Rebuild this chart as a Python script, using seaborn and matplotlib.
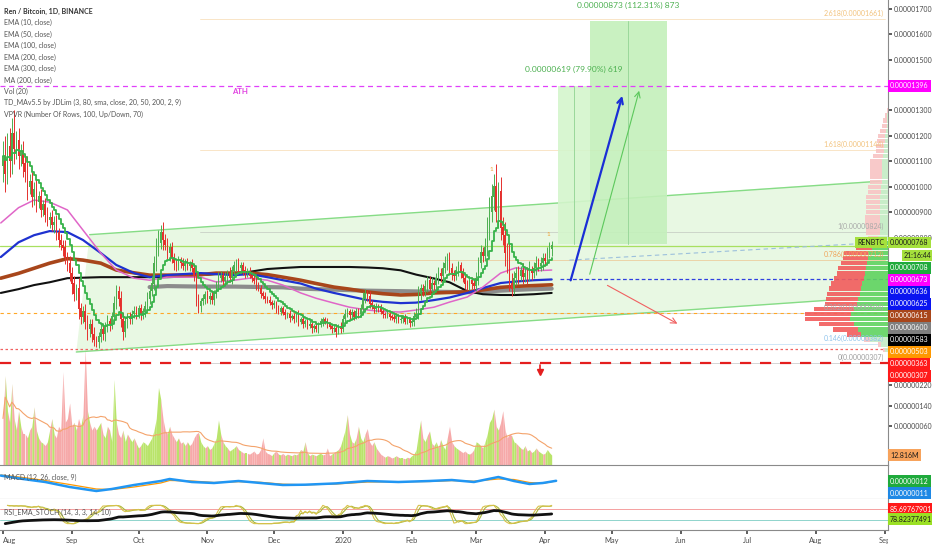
import numpy as np
import pandas as pd
import seaborn as sns
import matplotlib
matplotlib.use("Agg")
import matplotlib.pyplot as plt
from matplotlib.patches import Polygon, Rectangle, FancyArrowPatch
from matplotlib.transforms import Bbox, TransformedBbox

# ---- daily candles, RENBTC in satoshi, day 0 = 2019-08-01 ----
first_open = 1080
closes = [
    1120, 1050, 1160, 1100, 1210, 1150, 1180, 1120, 1140, 1090,
    1060, 1000, 1020, 960, 990, 940, 960, 910, 930, 890,
    870, 880, 850, 860, 820, 790, 770, 760, 720, 700,
    660, 620, 580, 600, 520, 490, 510, 470, 440, 460,
    420, 400, 390, 410, 440, 420, 450, 470, 460, 490,
    540, 590, 560, 480, 430, 470, 490, 480, 500, 510,
    500, 520, 495, 510, 530, 560, 590, 620, 700, 760,
    780, 820, 790, 770, 740, 760, 720, 700, 690, 710,
    700, 690, 700, 690, 695, 680, 650, 560, 530, 550,
    560, 575, 560, 570, 555, 580, 610, 640, 650, 630,
    645, 660, 640, 670, 690, 700, 680, 690, 670, 660,
    665, 650, 640, 630, 610, 600, 580, 570, 560, 555,
    545, 535, 540, 520, 510, 520, 505, 495, 500, 485,
    490, 480, 500, 470, 480, 460, 470, 455, 460, 445,
    450, 440, 460, 470, 480, 470, 460, 450, 440, 445,
    430, 450, 440, 480, 500, 510, 495, 505, 490, 510,
    500, 520, 560, 580, 570, 540, 530, 520, 530, 525,
    510, 500, 495, 500, 490, 485, 480, 490, 475, 480,
    485, 470, 480, 465, 470, 490, 500, 580, 600, 590,
    610, 630, 600, 620, 615, 640, 660, 650, 680, 700,
    720, 680, 660, 650, 670, 690, 660, 640, 620, 610,
    630, 620, 610, 640, 700, 740, 730, 760, 830, 900,
    960, 1000, 900, 980, 840, 810, 740, 720, 620, 600,
    640, 660, 650, 670, 645, 660, 650, 670, 660, 680,
    700, 690, 700, 720, 710, 740, 755, 768,
]
wick_up = [
    60, 80, 50, 70, 60, 90, 40, 50, 30, 40,
    40, 60, 30, 40, 30, 40, 25, 30, 20, 25,
    30, 20, 30, 25, 30, 20, 25, 20, 30, 25,
    30, 25, 30, 20, 40, 25, 20, 30, 25, 20,
    20, 30, 15, 20, 25, 20, 20, 25, 15, 20,
    30, 25, 20, 30, 25, 20, 15, 20, 15, 20,
    20, 15, 20, 15, 20, 25, 20, 30, 30, 40,
    50, 30, 40, 25, 30, 20, 25, 20, 15, 20,
    15, 20, 15, 20, 15, 20, 15, 25, 20, 15,
    20, 15, 20, 15, 20, 15, 20, 25, 20, 15,
    20, 15, 25, 20, 20, 15, 20, 15, 15, 20,
    15, 20, 15, 15, 20, 15, 15, 10, 15, 10,
    15, 10, 15, 10, 15, 10, 10, 15, 10, 15,
    10, 15, 10, 15, 10, 15, 10, 10, 15, 10,
    10, 15, 10, 15, 10, 10, 15, 10, 10, 15,
    15, 10, 20, 15, 20, 15, 10, 15, 10, 15,
    15, 20, 25, 20, 15, 20, 15, 10, 15, 10,
    15, 10, 10, 15, 10, 10, 15, 10, 10, 15,
    10, 15, 10, 10, 15, 20, 25, 30, 20, 20,
    25, 20, 20, 25, 15, 20, 25, 20, 25, 30,
    20, 25, 20, 15, 20, 20, 15, 20, 15, 15,
    20, 15, 20, 25, 25, 30, 25, 40, 50, 60,
    50, 50, 90, 40, 60, 40, 50, 40, 60, 40,
    30, 25, 30, 20, 30, 25, 25, 40, 20, 25,
    30, 20, 25, 20, 20, 25, 30, 20,
]
wick_dn = [
    60, 70, 40, 60, 50, 60, 40, 50, 40, 50,
    40, 50, 30, 40, 30, 40, 25, 30, 25, 30,
    25, 30, 25, 30, 30, 25, 20, 30, 25, 30,
    30, 40, 30, 25, 40, 30, 25, 30, 40, 30,
    30, 25, 20, 25, 20, 20, 25, 20, 25, 20,
    25, 20, 30, 30, 30, 20, 25, 20, 20, 15,
    20, 15, 20, 15, 20, 15, 20, 20, 25, 30,
    30, 25, 40, 20, 25, 30, 20, 25, 20, 15,
    20, 15, 20, 15, 20, 15, 20, 30, 25, 20,
    15, 20, 15, 20, 15, 20, 15, 20, 15, 20,
    15, 20, 15, 20, 15, 20, 15, 20, 15, 20,
    15, 10, 15, 10, 15, 10, 15, 10, 15, 10,
    10, 15, 10, 15, 10, 15, 10, 15, 10, 15,
    10, 15, 10, 15, 10, 15, 10, 15, 10, 20,
    15, 10, 15, 10, 15, 10, 15, 10, 15, 10,
    20, 10, 15, 10, 15, 10, 15, 10, 15, 10,
    15, 10, 20, 15, 20, 15, 10, 15, 10, 15,
    10, 15, 10, 10, 15, 10, 10, 15, 10, 10,
    15, 10, 10, 15, 10, 15, 10, 20, 25, 20,
    20, 25, 20, 15, 20, 15, 20, 25, 20, 20,
    25, 20, 25, 20, 15, 20, 20, 15, 20, 15,
    15, 20, 15, 20, 25, 20, 25, 20, 30, 40,
    40, 50, 40, 60, 50, 40, 50, 60, 30, 30,
    20, 25, 30, 20, 25, 20, 30, 20, 25, 20,
    25, 20, 20, 25, 20, 15, 20, 25,
]
# daily volume, millions of REN
volume = [
    60, 115, 70, 55, 105, 60, 45, 70, 50, 40,
    40, 35, 45, 50, 75, 45, 35, 30, 28, 25,
    30, 45, 60, 40, 35, 50, 45, 120, 55, 60,
    80, 50, 55, 45, 60, 50, 65, 150, 70, 55,
    45, 50, 45, 50, 55, 40, 35, 50, 45, 30,
    110, 55, 40, 35, 45, 30, 40, 35, 30, 35,
    28, 22, 25, 30, 28, 25, 30, 35, 45, 60,
    100, 85, 60, 45, 40, 50, 40, 35, 30, 35,
    28, 30, 25, 30, 25, 28, 35, 40, 42, 30,
    25, 22, 25, 20, 22, 28, 35, 58, 40, 30,
    25, 22, 18, 20, 22, 25, 20, 18, 16, 15,
    15, 14, 16, 18, 14, 15, 20, 35, 18, 15,
    14, 12, 16, 18, 14, 13, 15, 12, 14, 13,
    12, 14, 13, 15, 20, 18, 30, 16, 12, 14,
    13, 12, 14, 15, 13, 14, 22, 12, 14, 16,
    18, 20, 25, 35, 45, 65, 40, 30, 28, 35,
    50, 35, 30, 40, 47, 30, 25, 30, 22, 18,
    14, 12, 10, 12, 11, 9, 10, 12, 10, 9,
    9, 8, 10, 9, 12, 14, 20, 40, 58, 35,
    30, 38, 44, 28, 25, 30, 22, 33, 25, 20,
    35, 50, 30, 25, 22, 20, 18, 16, 18, 15,
    14, 16, 20, 30, 28, 25, 22, 30, 40, 55,
    60, 72, 50, 45, 55, 70, 45, 35, 40, 38,
    30, 28, 25, 22, 20, 25, 18, 20, 16, 18,
    22, 18, 16, 14, 15, 20, 16, 12.816,
]

# ---- moving averages (day, satoshi) ----
ma_days = [-1, 7, 14, 21, 29, 36, 44, 51, 59, 66, 74, 81, 89, 96, 104, 111, 119,
           126, 134, 141, 149, 156, 164, 171, 179, 186, 194, 201, 209, 216, 224,
           231, 239, 247]
ema50 = [858, 918, 948, 940, 909, 830, 740, 673, 641, 633, 645, 645, 645, 626, 633,
         641, 633, 614, 583, 562, 543, 527, 516, 510, 508, 516, 527, 547, 567, 606,
         661, 682, 670, 673]
ema100 = [724, 782, 810, 826, 822, 791, 740, 693, 661, 645, 653, 657, 661, 657, 653,
          657, 645, 633, 620, 600, 583, 570, 555, 548, 543, 545, 555, 565, 583, 602,
          622, 628, 633, 636]
ema200 = [641, 660, 680, 700, 718, 712, 700, 673, 662, 653, 653, 653, 655, 661, 661,
          661, 655, 645, 633, 620, 606, 598, 587, 580, 575, 577, 583, 585, 587, 595,
          605, 609, 612, 615]
ema300 = [583, 598, 614, 625, 641, 643, 645, 645, 645, 645, 645, 647, 653, 657, 661,
          666, 677, 681, 685, 685, 685, 685, 683, 680, 672, 655, 640, 625, 590, 578,
          575, 575, 578, 583]
sma200 = [np.nan] * 9 + [606, 610, 609, 608, 608, 608, 607, 606, 605, 600, 598,
                         596, 594, 592, 591, 590, 589, 588, 587, 586, 588, 592,
                         595, 598, 600]

macd_days = [-1, 9, 19, 30, 42, 49, 59, 71, 75, 85, 95, 106, 116, 126, 136, 150,
             164, 178, 192, 202, 212, 223, 230, 237, 243, 249]
macd_line = [64, 30, 0, -50, -90, -70, -30, 10, 30, 0, -10, 10, -10, -30, -27, -14,
             10, 0, 10, 20, 0, 50, 10, -20, -10, 12]
macd_signal = [70, 45, 15, -25, -70, -75, -50, -10, 15, 10, -5, 3, -3, -22, -28, -20,
               0, 3, 5, 14, 8, 30, 25, -5, -14, 11]

# ---- VPVR rows (row centre price, up / down volume) ----
vp_prices = list(range(360, 1301, 20))
vp_up = [3, 7, 18, 27, 30, 34, 38, 37, 34, 31, 30, 28, 27, 26, 24, 23, 22, 21, 20, 20,
         16, 13, 10, 8, 8, 8, 8, 8, 8, 8, 8, 7, 7, 6, 6, 6, 6, 6, 5, 4,
         4, 3, 3, 2, 1, 1, 1, 0.5]
vp_down = [2, 3, 6, 14, 25, 35, 45, 46, 40, 32, 32, 33, 32, 31, 30, 28, 28, 26, 25, 24,
           16, 12, 10, 14, 14, 15, 15, 14, 14, 14, 14, 13, 13, 12, 12, 12, 12, 12, 10, 8,
           8, 8, 7, 6, 5, 4, 2, 1]
value_area = (410, 790)

# ---- drawings ----
ath = 1396
key_levels = {"ath": 1396, "resist": 503, "low2": 363, "low": 307}
fib_labels = ["0", "0.146", "0.382", "0.786", "1", "1.618", "2.618"]
fib_prices = [307, 382, 504, 713, 824, 1144, 1661]
fib_colors = ["#9e9e9e", "#8fc4ec", "#a8a8a8", "#f0a45a", "#a8a8a8", "#f2c27c", "#f2c27c"]
entry = 777
target_gain = [619, 873]
target_pct = ["79.90%", "112.31%"]

legend_lines = ["EMA (10, close)", "EMA (50, close)", "EMA (100, close)",
                "EMA (200, close)", "EMA (300, close)", "MA (200, close)", "Vol (20)",
                "TD_MAv5.5 by JDLim (3, 80, sma, close, 20, 50, 200, 2, 9)",
                "VPVR (Number Of Rows, 100, Up/Down, 70)"]
price_ticks = [1700, 1600, 1500, 1300, 1200, 1100, 1000, 900, 800, 220, 140, 60]

W, H = 932, 550
PX_DAY = 2.2216          # horizontal pixels per day
X_LEFT, X_RIGHT = -1.35, 398.4
FS = 5.0                 # small TradingView-like text

sns.set_theme(style="white")
plt.rcParams['font.family'] = ['Lato', 'DejaVu Sans']

n = len(closes)
days = np.arange(n)
c = np.array(closes, dtype=float)
o = np.array([first_open] + closes[:-1], dtype=float)
hi = np.maximum(o, c) + np.array(wick_up)
lo = np.minimum(o, c) - np.array(wick_dn)
up = c >= o
vol = np.array(volume, dtype=float)

fig = plt.figure(figsize=(W / 100, H / 100), dpi=100)
ax = fig.add_axes([0, 1 - 465 / H, 888 / W, 465 / H])
axv = ax.twinx()
axm = fig.add_axes([0, 1 - 499 / H, 888 / W, 34 / H])
axr = fig.add_axes([0, 1 - 530 / H, 888 / W, 31 / H])

ax.set_zorder(axv.get_zorder() + 1)
ax.patch.set_visible(False)

# volume overlay
vcol_up, vcol_dn = "#b9e46a", "#f6a9a9"
for i in range(1, n):
    axv.fill_between([i - 1, i], [vol[i - 1], vol[i]], 0,
                     color=vcol_up if up[i] else vcol_dn, lw=0)
vol_ma = pd.Series(vol).rolling(20, min_periods=1).mean()
sns.lineplot(x=days, y=vol_ma, ax=axv, color="#f4a36b", linewidth=0.8)
axv.set_ylim(0, 600)
axv.set_yticks([])
axv.set_ylabel("")

# channel
chan = Polygon([(33, 351), (39, 812), (X_RIGHT, 1027), (X_RIGHT, 568)],
               closed=True, fc="#dcf5d4", ec="none", alpha=0.65, zorder=0)
ax.add_patch(chan)
ax.plot([39, 394.8], [812, 1022], color="#86dc86", lw=1.0, zorder=1)
ax.plot([33, 381], [351, 560], color="#86dc86", lw=1.0, zorder=1)

# fib levels
fib_x0 = 88.7
for lab, p, col in zip(fib_labels, fib_prices, fib_colors):
    ax.plot([fib_x0, 397], [p, p], color=col, lw=0.6, alpha=0.5, zorder=1)
    ax.text(396.5, p + 8, f"{lab}({p / 1e8:.8f})", color=col, fontsize=FS,
            ha="right", va="bottom", zorder=6)

# horizontal levels
ax.axhline(key_levels["ath"], color="#e040fb", lw=0.9, ls=(0, (4, 3)), zorder=2)
ax.axhline(key_levels["resist"], color="#ffa726", lw=0.8, ls=(0, (3, 3)), zorder=2)
ax.axhline(key_levels["low2"], color="#f06060", lw=0.9, ls=(0, (2, 2)), zorder=2)
ax.axhline(key_levels["low"], color="#e41e1e", lw=1.6, ls=(0, (5, 4)), zorder=2)
ax.axhline(closes[-1], color="#a8e060", lw=0.9, zorder=2)
ax.plot([250.7, X_RIGHT], [ema100[-1], ema100[-1]], color="#3040e0", lw=0.9,
        ls=(0, (3, 2)), zorder=2)
ax.plot([255, X_RIGHT], [712, 783], color="#9cc0dc", lw=0.8, ls=(0, (4, 3)), zorder=2)
ax.text(106.7, ath - 8, "ATH", color="#e040e0", fontsize=5.6, fontweight="bold",
        ha="center", va="top")

# long position boxes
box_x = [(249.8, 264.2), (264.2, 298.9)]
box_fc = ["#d4f5cc", "#c4f0bb"]
for (x0, x1), g, pct, fc in zip(box_x, target_gain, target_pct, box_fc):
    ax.add_patch(Rectangle((x0, entry), x1 - x0, g, fc=fc, ec="none", alpha=0.9, zorder=1))
    xm = (x0 + x1) / 2
    ax.plot([xm, xm], [entry, entry + g], color="#9ad89a", lw=0.7, zorder=2)
    ax.text(xm, entry + g + 50, f"{g / 1e8:.8f} ({pct}) {g}", color="#4cb050",
            fontsize=6.0, ha="center", va="bottom")

# projection arrows
for (p0, p1, col, lw) in [((255.2, 622), (279.1, 1368), "#1a2fd6", 1.6),
                          ((263.8, 646), (286.7, 1388), "#5cc85c", 0.8),
                          ((271.0, 618), (304.7, 457), "#f06060", 0.8)]:
    ax.add_patch(FancyArrowPatch(p0, p1, arrowstyle="->", mutation_scale=10,
                                 color=col, lw=lw, zorder=5))

# moving averages
ma_specs = [(sma200, "#8c8c8c", 3.0), (ema300, "#111111", 1.5),
            (ema200, "#a8461b", 2.6), (ema100, "#1f32d0", 1.6),
            (ema50, "#e066c8", 1.1)]
for vals, col, lw in ma_specs:
    sns.lineplot(x=ma_days, y=vals, ax=ax, color=col, linewidth=lw, zorder=3)

# candles
body_col = np.where(up, "#4caf50", "#e5302d")
ax.vlines(days, lo, hi, colors=body_col, lw=0.7, zorder=4)
ax.bar(days, np.abs(c - o) + 2, bottom=np.minimum(o, c), width=0.65,
       color=body_col, lw=0, zorder=4)

ema10 = pd.Series(c).ewm(span=10, adjust=False).mean()
sns.lineplot(x=days, y=ema10, ax=ax, color="#37b34a", linewidth=1.3,
             drawstyle="steps-post", zorder=5)

# small TD markers
for d, p in [(220, 1058), (245.3, 803)]:
    ax.text(d, p, "1", color="#f0a030", fontsize=4.6, ha="center", va="bottom")
ax.plot([241.7], [272], marker="v", color="#e41e1e", ms=4, zorder=5)
ax.plot([241.7, 241.7], [272, 300], color="#e41e1e", lw=1.2, zorder=5)

# VPVR
for p, u, d in zip(vp_prices, vp_up, vp_down):
    inside = value_area[0] <= p <= value_area[1]
    cu = "#5fd35f" if inside else "#c5ecc5"
    cd = "#f25c5c" if inside else "#f8c4c4"
    wu, wd = u / PX_DAY, d / PX_DAY
    ax.barh(p, wu, left=X_RIGHT - wu, height=17, color=cu, lw=0, zorder=3, alpha=0.9)
    ax.barh(p, wd, left=X_RIGHT - wu - wd, height=17, color=cd, lw=0, zorder=3, alpha=0.9)

ax.set_xlim(X_LEFT, X_RIGHT)
ax.set_ylim(-93, 1734)
axv.set_xlim(X_LEFT, X_RIGHT)
ax.set_xlabel("")
ax.set_ylabel("")
ax.yaxis.tick_right()
ax.set_yticks(price_ticks)
ax.set_yticklabels([f"{v / 1e8:.8f}" for v in price_ticks])
ax.set_xticks([])

# MACD pane
sns.lineplot(x=macd_days, y=macd_signal, ax=axm, color="#ff9800", linewidth=0.9)
sns.lineplot(x=macd_days, y=macd_line, ax=axm, color="#2196f3", linewidth=1.8)
axm.set_ylim(-170, 170)
axm.set_xlim(X_LEFT, X_RIGHT)
axm.set_yticks([])
axm.set_xticks([])

# RSI / stoch pane
delta = pd.Series(c).diff()
gain = delta.clip(lower=0).ewm(alpha=1 / 14, adjust=False).mean()
loss = (-delta.clip(upper=0)).ewm(alpha=1 / 14, adjust=False).mean()
rsi = 100 - 100 / (1 + gain / loss)
rsi_lo = rsi.rolling(14, min_periods=1).min()
rsi_hi = rsi.rolling(14, min_periods=1).max()
stoch = 100 * (rsi - rsi_lo) / (rsi_hi - rsi_lo)
k = stoch.rolling(3, min_periods=1).mean()
dline = k.rolling(3, min_periods=1).mean()
rsi_ema = rsi.ewm(span=10, adjust=False).mean()
axr.axhline(80, color="#f5a0a0", lw=0.7)
axr.axhline(20, color="#8fd4cc", lw=0.7)
sns.lineplot(x=days, y=dline, ax=axr, color="#a9b83a", linewidth=0.8)
sns.lineplot(x=days, y=k, ax=axr, color="#d8c24a", linewidth=0.8)
sns.lineplot(x=days, y=rsi_ema, ax=axr, color="#111111", linewidth=2.0)
axr.set_ylim(-35, 135)
axr.set_xlim(X_LEFT, X_RIGHT)
axr.set_yticks([])

start = pd.Timestamp("2019-08-01")
months = pd.date_range("2019-08-01", "2020-09-01", freq="MS")
tick_days = [(m - start).days for m in months]
tick_labs = ["2020" if m.month == 1 else m.strftime("%b") for m in months]
axr.set_xticks(tick_days)
axr.set_xticklabels(tick_labs)
clip = TransformedBbox(Bbox([[0, -5], [1, 1]]), axr.transAxes)
xlabs = axr.get_xticklabels()
xlabs[0].set_horizontalalignment("left")
xlabs[0].set_x(0)
for lab in xlabs[1:]:
    lab.set_clip_on(True)
    lab.set_clip_box(clip)

for a in (ax, axm, axr):
    for s in ("top", "left"):
        a.spines[s].set_visible(False)
    a.spines["right"].set_color("#8a8a8a")
    a.spines["bottom"].set_color("#8a8a8a")
    a.spines["right"].set_linewidth(0.8)
    a.spines["bottom"].set_linewidth(0.8)
    a.set_xlabel("")
    a.set_ylabel("")
for s in axv.spines.values():
    s.set_visible(False)
ax.tick_params(axis="y", labelsize=FS, colors="#4a4a4a", length=3, pad=1.5,
               direction="out", right=True)
axr.tick_params(axis="x", labelsize=5.4, colors="#4a4a4a", length=3, pad=2,
                direction="out", bottom=True)

# legend text, top-left
fig.text(4 / W, 1 - 11 / H, "Ren / Bitcoin, 1D, BINANCE", fontsize=FS, color="#333333",
         fontweight="bold", va="center")
for i, t in enumerate(legend_lines):
    fig.text(4 / W, 1 - (22.7 + 11.45 * i) / H, t, fontsize=FS, color="#555555", va="center")
fig.text(4 / W, 1 - 477 / H, "MACD (12, 26, close, 9)", fontsize=FS, color="#555555",
         va="center")
fig.text(4 / W, 1 - 512 / H, "RSI_EMA_STOCH (14, 3, 3, 14, 10)", fontsize=FS,
         color="#555555", va="center")

# price-scale value tags
tags = [(86, "0.00001396", "#ff00ff", "white"),
        (242.5, "0.00000768", "#a5e03c", "#1a1a1a"),
        (268, "0.00000708", "#1faa3c", "white"),
        (280, "0.00000673", "#ff00ff", "white"),
        (292, "0.00000636", "#0a14f0", "white"),
        (304, "0.00000625", "#0a14f0", "white"),
        (316, "0.00000615", "#a8461b", "white"),
        (328, "0.00000600", "#7f7f7f", "white"),
        (340, "0.00000583", "#000000", "white"),
        (352, "0.00000503", "#ff9800", "white"),
        (364, "0.00000363", "#ff1a1a", "white"),
        (376, "0.00000307", "#ff1a1a", "white"),
        (481, "0.00000012", "#1faa3c", "white"),
        (493, "0.00000011", "#1e88e5", "white"),
        (509, "85.69767901", "#ff1a1a", "white"),
        (519, "78.82377491", "#9be024", "#1a1a1a")]
for y, t, bg, fg in tags:
    fig.text(890 / W, 1 - y / H, t, fontsize=FS, color=fg, va="center", ha="left",
             bbox=dict(boxstyle="square,pad=0.3", fc=bg, ec="none"))
fig.text(904 / W, 1 - 255.5 / H, "21:16:44", fontsize=FS, color="#1a1a1a", va="center",
         bbox=dict(boxstyle="square,pad=0.3", fc="#a5e03c", ec="none"))
fig.text(890 / W, 1 - 455 / H, "12.816M", fontsize=FS, color="#1a1a1a", va="center",
         bbox=dict(boxstyle="square,pad=0.35", fc="#f7a35c", ec="none"))
fig.text(871 / W, 1 - 242.5 / H, "RENBTC", fontsize=FS, color="#1a1a1a", va="center",
         ha="center", bbox=dict(boxstyle="square,pad=0.3", fc="#a5e03c", ec="none"))

fig.savefig("out.png", dpi=100)
